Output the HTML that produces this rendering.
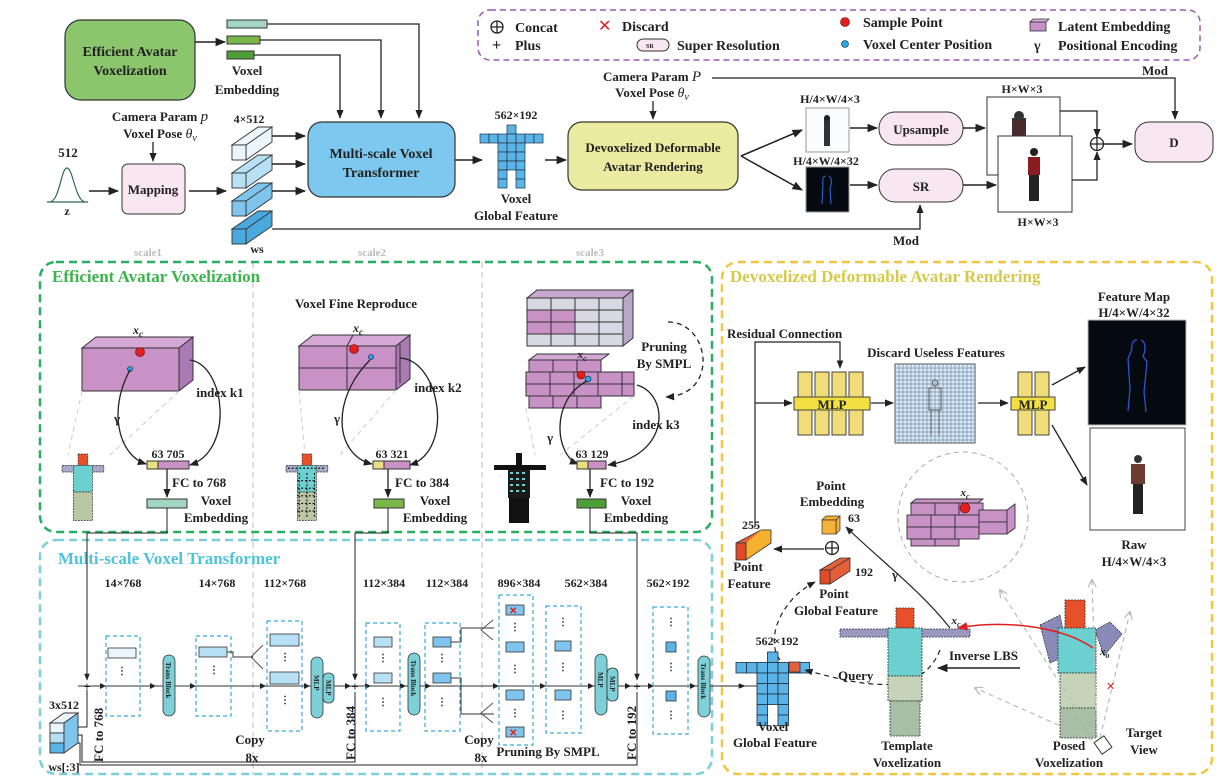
<!DOCTYPE html>
<html><head><meta charset="utf-8"><style>
html,body{margin:0;padding:0;background:#fff}
svg{display:block}
text{font-family:"Liberation Serif",serif;font-weight:bold;fill:#222}
</style></head><body>
<svg width="1232" height="778" viewBox="0 0 1232 778" xmlns="http://www.w3.org/2000/svg">
<defs>
<marker id="a" viewBox="0 0 10 10" refX="9" refY="5" markerWidth="7" markerHeight="7" orient="auto"><path d="M0,1 L10,5 L0,9 z" fill="#222"/></marker>
<marker id="ag" viewBox="0 0 10 10" refX="9" refY="5" markerWidth="7" markerHeight="7" orient="auto"><path d="M0,0 L10,5 L0,10" fill="none" stroke="#bbb" stroke-width="1.5"/></marker>
<marker id="ar" viewBox="0 0 10 10" refX="9" refY="5" markerWidth="7" markerHeight="7" orient="auto"><path d="M0,1 L10,5 L0,9 z" fill="#e02020"/></marker>
<g id="person">
 <rect x="17" y="0" width="10" height="12" fill="#e8502a" stroke="#333" stroke-dasharray="2,1" stroke-width="0.8"/>
 <rect x="0" y="12" width="44" height="7" fill="#a9a9c8" stroke="#333" stroke-dasharray="2,1" stroke-width="0.8"/>
 <rect x="12" y="12" width="20" height="28" fill="#6ccfd0" stroke="#333" stroke-dasharray="2,1" stroke-width="0.8"/>
 <rect x="12" y="40" width="20" height="30" fill="#b9c7a6" stroke="#333" stroke-dasharray="2,1" stroke-width="0.8"/>
</g>
<g id="vgf">
 <g fill="#5ab4e8" stroke="#234" stroke-width="0.8">
 <rect x="30" y="0" width="10" height="10"/>
 <rect x="0" y="10" width="10" height="10"/><rect x="10" y="10" width="10" height="10"/><rect x="20" y="10" width="10" height="10"/><rect x="30" y="10" width="10" height="10"/><rect x="40" y="10" width="10" height="10"/><rect x="50" y="10" width="10" height="10"/><rect x="60" y="10" width="10" height="10"/>
 <rect x="20" y="20" width="10" height="10"/><rect x="30" y="20" width="10" height="10"/><rect x="40" y="20" width="10" height="10"/>
 <rect x="20" y="30" width="10" height="10"/><rect x="30" y="30" width="10" height="10"/><rect x="40" y="30" width="10" height="10"/>
 <rect x="20" y="40" width="10" height="10"/><rect x="30" y="40" width="10" height="10"/><rect x="40" y="40" width="10" height="10"/>
 <rect x="20" y="50" width="10" height="10"/><rect x="40" y="50" width="10" height="10"/>
 <rect x="20" y="60" width="10" height="10"/><rect x="40" y="60" width="10" height="10"/>
 </g>
</g>
</defs>

<!-- Legend -->
<rect x="478" y="10" width="722" height="50" rx="12" fill="none" stroke="#9b59b6" stroke-width="1.5" stroke-dasharray="6,4"/>
<circle cx="497" cy="27" r="6" fill="none" stroke="#222" stroke-width="1.3"/><path d="M491,27h12M497,21v12" stroke="#222" stroke-width="1.3"/>
<text x="515" y="32" font-size="14">Concat</text>
<text x="492" y="50" font-size="16">+</text><text x="515" y="50" font-size="14">Plus</text>
<text x="598" y="31" font-size="16" style="fill:#e02020;font-weight:normal">✕</text><text x="622" y="31" font-size="14">Discard</text>
<rect x="637" y="39" width="32" height="12" rx="6" fill="#f8e6f0" stroke="#333"/><text x="646" y="48" font-size="6">SR</text>
<text x="677" y="50" font-size="14">Super Resolution</text>
<circle cx="845" cy="22" r="4.5" fill="#e02020" stroke="#600" stroke-width="0.6"/><text x="863" y="27" font-size="14">Sample Point</text>
<circle cx="845" cy="44" r="3.5" fill="#2aa6e0" stroke="#024" stroke-width="0.6"/><text x="863" y="49" font-size="14">Voxel Center Position</text>
<path d="M1030,22 h16 l3,-3 h-16 z" fill="#d8b0d8" stroke="#333" stroke-width="0.8"/><rect x="1030" y="22" width="16" height="9" fill="#c890c8" stroke="#333" stroke-width="0.8"/>
<text x="1058" y="31" font-size="14">Latent Embedding</text>
<text x="1034" y="50" font-size="14">γ</text><text x="1058" y="50" font-size="14">Positional Encoding</text>

<!-- Top pipeline -->
<rect x="65" y="20" width="130" height="80" rx="16" fill="#8bc56c" stroke="#333" stroke-width="1.2"/>
<text x="130" y="56" font-size="14" text-anchor="middle">Efficient Avatar</text>
<text x="130" y="75" font-size="14" text-anchor="middle">Voxelization</text>
<line x1="195" y1="42" x2="225" y2="42" stroke="#222" stroke-width="1.5" marker-end="url(#a)"/>
<rect x="227" y="20" width="40" height="8" fill="#a3d6c2" stroke="#333"/>
<rect x="227" y="36" width="33" height="8" fill="#7ab648" stroke="#333"/>
<rect x="227" y="51" width="27" height="8" fill="#4f9e3a" stroke="#333"/>
<text x="247" y="75" font-size="13" text-anchor="middle">Voxel</text>
<text x="247" y="94" font-size="13" text-anchor="middle">Embedding</text>
<path d="M267,24 H419 V118" fill="none" stroke="#222" stroke-width="1.3" marker-end="url(#a)"/>
<path d="M260,40 H381 V118" fill="none" stroke="#222" stroke-width="1.3" marker-end="url(#a)"/>
<path d="M254,55 H340 V118" fill="none" stroke="#222" stroke-width="1.3" marker-end="url(#a)"/>

<rect x="308" y="122" width="147" height="75" rx="14" fill="#7cc8ee" stroke="#333" stroke-width="1.2"/>
<text x="381" y="158" font-size="14" text-anchor="middle">Multi-scale Voxel</text>
<text x="381" y="177" font-size="14" text-anchor="middle">Transformer</text>

<text x="160" y="121" font-size="13" text-anchor="middle">Camera Param <tspan font-style="italic" font-weight="normal" font-size="15">p</tspan></text>
<text x="160" y="138" font-size="13" text-anchor="middle">Voxel Pose <tspan font-style="italic" font-weight="normal" font-size="14">θ</tspan><tspan font-style="italic" font-weight="normal" font-size="10" dy="3">v</tspan></text>
<line x1="153" y1="142" x2="153" y2="161" stroke="#222" stroke-width="1.3" marker-end="url(#a)"/>
<text x="68" y="157" font-size="13" text-anchor="middle">512</text>
<path d="M47,202 H88 M50,202 C60,200 61,168 67,168 C73,168 75,200 85,202" fill="none" stroke="#2e6b4a" stroke-width="1.2"/>
<text x="67" y="215" font-size="12" text-anchor="middle">z</text>
<line x1="89" y1="191" x2="118" y2="191" stroke="#222" stroke-width="1.5" marker-end="url(#a)"/>
<rect x="122" y="164" width="63" height="50" rx="6" fill="#f8e6f0" stroke="#333"/>
<text x="153" y="194" font-size="13" text-anchor="middle">Mapping</text>
<line x1="189" y1="191" x2="226" y2="191" stroke="#222" stroke-width="1.5" marker-end="url(#a)"/>
<text x="249" y="123" font-size="12" text-anchor="middle">4×512</text>
<g stroke="#333" stroke-width="0.9">
 <path d="M232,145 l26,-18 h14 l-26,18 z M258,127 h14 v15 l-26,18 v-15" fill="#eaf6fb"/><rect x="232" y="145" width="14" height="15" fill="#eaf6fb"/>
 <path d="M232,173 l26,-18 h14 l-26,18 z M258,155 h14 v15 l-26,18 v-15" fill="#b8e0f4"/><rect x="232" y="173" width="14" height="15" fill="#b8e0f4"/>
 <path d="M232,201 l26,-18 h14 l-26,18 z M258,183 h14 v15 l-26,18 v-15" fill="#7fc4ec"/><rect x="232" y="201" width="14" height="15" fill="#7fc4ec"/>
 <path d="M232,229 l26,-18 h14 l-26,18 z M258,211 h14 v15 l-26,18 v-15" fill="#4aa8dc"/><rect x="232" y="229" width="14" height="15" fill="#4aa8dc"/>
</g>
<text x="257" y="253" font-size="12" text-anchor="middle">ws</text>
<line x1="272" y1="136" x2="305" y2="136" stroke="#222" stroke-width="1.5" marker-end="url(#a)"/>
<line x1="272" y1="164" x2="305" y2="164" stroke="#222" stroke-width="1.5" marker-end="url(#a)"/>
<line x1="272" y1="191" x2="305" y2="191" stroke="#222" stroke-width="1.5" marker-end="url(#a)"/>
<path d="M272,229 H920 V205" fill="none" stroke="#222" stroke-width="1.3" marker-end="url(#a)"/>
<text x="906" y="245" font-size="13" text-anchor="middle">Mod</text>

<line x1="455" y1="160" x2="482" y2="160" stroke="#222" stroke-width="1.5" marker-end="url(#a)"/>
<text x="516" y="119" font-size="12" text-anchor="middle">562×192</text>
<use href="#vgf" transform="translate(480,125) scale(0.9)"/>
<text x="516" y="203" font-size="13" text-anchor="middle">Voxel</text>
<text x="516" y="220" font-size="13" text-anchor="middle">Global Feature</text>
<line x1="545" y1="160" x2="566" y2="160" stroke="#222" stroke-width="1.5" marker-end="url(#a)"/>
<rect x="568" y="122" width="170" height="68" rx="14" fill="#eaeba0" stroke="#333" stroke-width="1.2"/>
<text x="653" y="152" font-size="13" text-anchor="middle">Devoxelized Deformable</text>
<text x="653" y="171" font-size="13" text-anchor="middle">Avatar Rendering</text>
<text x="652" y="81" font-size="13" text-anchor="middle">Camera Param <tspan font-style="italic" font-weight="normal" font-size="15">P</tspan></text>
<text x="652" y="97" font-size="13" text-anchor="middle">Voxel Pose <tspan font-style="italic" font-weight="normal" font-size="14">θ</tspan><tspan font-style="italic" font-weight="normal" font-size="10" dy="3">v</tspan></text>
<line x1="653" y1="101" x2="653" y2="119" stroke="#222" stroke-width="1.3" marker-end="url(#a)"/>
<path d="M712,78 H1175 V119" fill="none" stroke="#222" stroke-width="1.3" marker-end="url(#a)"/>
<text x="1155" y="75" font-size="13" text-anchor="middle">Mod</text>
<line x1="741" y1="156" x2="802" y2="130" stroke="#222" stroke-width="1.5" marker-end="url(#a)"/>
<line x1="741" y1="156" x2="802" y2="190" stroke="#222" stroke-width="1.5" marker-end="url(#a)"/>
<text x="830" y="103" font-size="12" text-anchor="middle">H/4×W/4×3</text>
<rect x="806" y="108" width="43" height="44" fill="#fafcfd" stroke="#999"/>
<rect x="824" y="118" width="6" height="28" fill="#333"/><circle cx="827" cy="118" r="3" fill="#222"/>
<text x="826" y="165" font-size="12" text-anchor="middle">H/4×W/4×32</text>
<rect x="806" y="167" width="43" height="45" fill="#050a10" stroke="#999"/>
<path d="M826,176 c-3,0 -4,4 -3,8 l-1,20 M829,176 c3,2 3,8 1,12 l1,16" stroke="#2a6ce0" stroke-width="1" fill="none"/>
<line x1="850" y1="128" x2="877" y2="128" stroke="#222" stroke-width="1.5" marker-end="url(#a)"/>
<line x1="850" y1="185" x2="877" y2="185" stroke="#222" stroke-width="1.5" marker-end="url(#a)"/>
<rect x="879" y="112" width="84" height="33" rx="16" fill="#f8e6f0" stroke="#333"/>
<text x="921" y="134" font-size="13" text-anchor="middle">Upsample</text>
<rect x="879" y="169" width="84" height="33" rx="16" fill="#f8e6f0" stroke="#333"/>
<text x="921" y="191" font-size="13" text-anchor="middle">SR</text>
<line x1="963" y1="128" x2="985" y2="128" stroke="#222" stroke-width="1.5" marker-end="url(#a)"/>
<line x1="963" y1="185" x2="996" y2="185" stroke="#222" stroke-width="1.5" marker-end="url(#a)"/>
<text x="1022" y="93" font-size="12" text-anchor="middle">H×W×3</text>
<rect x="987" y="97" width="73" height="78" fill="#fff" stroke="#333"/>
<rect x="1012" y="118" width="14" height="18" fill="#4a2a2a"/><circle cx="1019" cy="116" r="5" fill="#333"/>
<rect x="998" y="136" width="74" height="76" fill="#fff" stroke="#333"/>
<circle cx="1034" cy="152" r="4" fill="#222"/><rect x="1028" y="157" width="12" height="18" fill="#8b1c22"/><rect x="1029" y="175" width="10" height="26" fill="#222"/>
<text x="1038" y="226" font-size="12" text-anchor="middle">H×W×3</text>
<path d="M1060,111 H1097 V137" fill="none" stroke="#222" stroke-width="1.3" marker-end="url(#a)"/>
<path d="M1072,180 H1097 V152" fill="none" stroke="#222" stroke-width="1.3" marker-end="url(#a)"/>
<circle cx="1097" cy="144" r="6.5" fill="#fff" stroke="#222" stroke-width="1.3"/><path d="M1090.5,144h13M1097,137.5v13" stroke="#222" stroke-width="1.3"/>
<line x1="1104" y1="144" x2="1132" y2="144" stroke="#222" stroke-width="1.5" marker-end="url(#a)"/>
<rect x="1135" y="122" width="78" height="40" rx="14" fill="#f8e6f0" stroke="#333"/>
<text x="1174" y="147" font-size="13" text-anchor="middle">D</text>

<!-- scale labels & separators -->
<text x="148" y="256" font-size="11" text-anchor="middle" style="fill:#bbb">scale1</text>
<text x="372" y="256" font-size="11" text-anchor="middle" style="fill:#bbb">scale2</text>
<text x="590" y="256" font-size="11" text-anchor="middle" style="fill:#bbb">scale3</text>
<line x1="253" y1="262" x2="253" y2="775" stroke="#bbb" stroke-dasharray="6,4"/>
<line x1="482" y1="262" x2="482" y2="775" stroke="#bbb" stroke-dasharray="6,4"/>

<!-- Section boxes -->
<rect x="40" y="262" width="672" height="270" rx="16" fill="none" stroke="#27ae60" stroke-width="2.5" stroke-dasharray="8,5"/>
<text x="52" y="282" font-size="17" style="fill:#3cb44b">Efficient Avatar Voxelization</text>
<rect x="40" y="540" width="672" height="234" rx="16" fill="none" stroke="#7ccfd8" stroke-width="2.5" stroke-dasharray="8,5"/>
<text x="58" y="564" font-size="17" style="fill:#4fc3d9">Multi-scale Voxel Transformer</text>
<rect x="722" y="262" width="490" height="512" rx="16" fill="none" stroke="#f2c640" stroke-width="2.5" stroke-dasharray="8,5"/>
<text x="730" y="282" font-size="17" style="fill:#d6c94a">Devoxelized Deformable Avatar Rendering</text>

<!-- EAV scale1 -->
<g stroke="#333" stroke-width="1">
<path d="M82,348 l14,-11 h97 l-14,11 z" fill="#d6a8d6"/>
<path d="M179,348 l14,-11 v43 l-14,11 z" fill="#a97ab3"/>
<rect x="82" y="348" width="97" height="43" fill="#c892c6"/>
</g>
<text x="138" y="334" font-size="12" font-style="italic" font-weight="normal" text-anchor="middle">x<tspan font-size="9" dy="3">c</tspan></text>
<circle cx="140" cy="352" r="4.5" fill="#e02020" stroke="#600" stroke-width="0.6"/>
<circle cx="130" cy="369" r="2.5" fill="#2aa6e0" stroke="#024" stroke-width="0.6"/>
<path d="M82,391 L68,455 M179,391 L110,455" stroke="#ccc" stroke-dasharray="5,4" fill="none"/>
<path d="M130,370 C108,410 118,455 146,464" fill="none" stroke="#222" stroke-width="1.3" marker-end="url(#a)"/>
<path d="M190,360 C225,365 235,450 190,465" fill="none" stroke="#222" stroke-width="1.3" marker-end="url(#a)"/>
<text x="220" y="397" font-size="13" text-anchor="middle">index k1</text>
<text x="117" y="423" font-size="13" text-anchor="middle">γ</text>
<text x="168" y="458" font-size="12" text-anchor="middle">63  705</text>
<rect x="147" y="461" width="11" height="8" fill="#e8e080" stroke="#333"/><rect x="158" y="461" width="31" height="8" fill="#c892c6" stroke="#333"/>
<line x1="167" y1="469" x2="167" y2="497" stroke="#222" stroke-width="1.3" marker-end="url(#a)"/>
<text x="172" y="487" font-size="13">FC to 768</text>
<rect x="147" y="499" width="40" height="9" fill="#a3d6c2" stroke="#333"/>
<text x="216" y="505" font-size="13" text-anchor="middle">Voxel</text>
<text x="216" y="522" font-size="13" text-anchor="middle">Embedding</text>
<use href="#person" transform="translate(62,454) scale(0.95)"/>

<!-- EAV scale2 -->
<text x="356" y="308" font-size="13" text-anchor="middle">Voxel Fine Reproduce</text>
<g stroke="#333" stroke-width="1">
<path d="M299,346 l14,-11 h97 l-14,11 z" fill="#d6a8d6"/>
<path d="M396,346 l14,-11 v44 l-14,11 z" fill="#a97ab3"/>
<rect x="299" y="346" width="97" height="44" fill="#c892c6"/>
<path d="M299,368 h97 M347,346 v44 M353,335 l-6,11 M400,344 v39"/>
</g>
<text x="358" y="332" font-size="12" font-style="italic" font-weight="normal" text-anchor="middle">x<tspan font-size="9" dy="3">c</tspan></text>
<circle cx="354" cy="349" r="4.5" fill="#e02020" stroke="#600" stroke-width="0.6"/>
<circle cx="371" cy="357" r="2.5" fill="#2aa6e0" stroke="#024" stroke-width="0.6"/>
<path d="M299,390 L305,455 M396,390 L340,455" stroke="#ccc" stroke-dasharray="5,4" fill="none"/>
<path d="M370,360 C330,400 335,455 372,464" fill="none" stroke="#222" stroke-width="1.3" marker-end="url(#a)"/>
<path d="M400,358 C440,360 455,450 410,465" fill="none" stroke="#222" stroke-width="1.3" marker-end="url(#a)"/>
<text x="438" y="392" font-size="13" text-anchor="middle">index k2</text>
<text x="337" y="423" font-size="13" text-anchor="middle">γ</text>
<text x="392" y="458" font-size="12" text-anchor="middle">63  321</text>
<rect x="373" y="461" width="11" height="8" fill="#e8e080" stroke="#333"/><rect x="384" y="461" width="26" height="8" fill="#c892c6" stroke="#333"/>
<line x1="388" y1="469" x2="388" y2="497" stroke="#222" stroke-width="1.3" marker-end="url(#a)"/>
<text x="395" y="487" font-size="13">FC to 384</text>
<rect x="374" y="499" width="30" height="9" fill="#7ab648" stroke="#333"/>
<text x="435" y="505" font-size="13" text-anchor="middle">Voxel</text>
<text x="435" y="522" font-size="13" text-anchor="middle">Embedding</text>
<g transform="translate(286,454) scale(0.95)">
 <use href="#person"/>
 <path d="M2,15 h40 M14,20 v48 M22,20 v48 M30,20 v48 M12,28 h20 M12,36 h20 M12,44 h20 M12,52 h20 M12,60 h20" stroke="#111" stroke-dasharray="2,2" stroke-width="1.2"/>
</g>

<!-- EAV scale3 -->
<g stroke="#333" stroke-width="1">
<path d="M527,298 l10,-8 h96 l-10,8 z" fill="#c8a8d0"/>
<rect x="527" y="298" width="96" height="48" fill="#d8d8e2"/>
<rect x="527" y="310" width="48" height="24" fill="#c892c6"/>
<path d="M527,310 h96 M527,322 h96 M527,334 h96 M551,298 v48 M575,298 v48 M599,298 v48"/>
<path d="M623,298 l10,-8 v48 l-10,8 z" fill="#b8a8c8"/>
</g>
<g stroke="#333" stroke-width="1" fill="#c892c6">
<rect x="529" y="360" width="24" height="12"/><rect x="553" y="360" width="24" height="12"/><rect x="577" y="360" width="24" height="12"/>
<rect x="526" y="372" width="24" height="12"/><rect x="550" y="372" width="24" height="12"/><rect x="574" y="372" width="24" height="12"/><rect x="598" y="372" width="24" height="12"/><rect x="622" y="372" width="12" height="12"/>
<rect x="526" y="384" width="24" height="12"/><rect x="550" y="384" width="24" height="12"/><rect x="574" y="384" width="24" height="12"/><rect x="598" y="384" width="24" height="12"/><rect x="622" y="384" width="12" height="12"/>
<rect x="529" y="396" width="24" height="12"/><rect x="553" y="396" width="24" height="12"/><rect x="577" y="396" width="24" height="12"/>
<path d="M529,360 l8,-6 h72 l-8,6 z" fill="#d6a8d6"/>
</g>
<text x="582" y="358" font-size="11" font-style="italic" font-weight="normal" text-anchor="middle">x<tspan font-size="8" dy="3">c</tspan></text>
<circle cx="581" cy="375" r="4" fill="#e02020" stroke="#600" stroke-width="0.6"/>
<circle cx="588" cy="379" r="3" fill="#2aa6e0" stroke="#024" stroke-width="0.6"/>
<path d="M526,408 L535,455 M634,396 L560,455" stroke="#ccc" stroke-dasharray="5,4" fill="none"/>
<path d="M587,381 C550,400 555,455 578,464" fill="none" stroke="#222" stroke-width="1.3" marker-end="url(#a)"/>
<path d="M637,385 C670,395 670,455 608,465" fill="none" stroke="#222" stroke-width="1.3" marker-end="url(#a)"/>
<text x="656" y="429" font-size="13" text-anchor="middle">index k3</text>
<text x="550" y="442" font-size="13" text-anchor="middle">γ</text>
<path d="M668,322 C710,322 720,395 666,397" fill="none" stroke="#222" stroke-width="1.3" stroke-dasharray="5,4" marker-end="url(#a)"/>
<text x="664" y="351" font-size="13" text-anchor="middle">Pruning</text>
<text x="664" y="368" font-size="13" text-anchor="middle">By SMPL</text>
<text x="592" y="458" font-size="12" text-anchor="middle">63   129</text>
<rect x="577" y="461" width="11" height="8" fill="#e8e080" stroke="#333"/><rect x="588" y="461" width="18" height="8" fill="#c892c6" stroke="#333"/>
<line x1="590" y1="469" x2="590" y2="497" stroke="#222" stroke-width="1.3" marker-end="url(#a)"/>
<text x="600" y="487" font-size="13">FC to 192</text>
<rect x="577" y="499" width="29" height="9" fill="#4f9e3a" stroke="#333"/>
<text x="636" y="505" font-size="13" text-anchor="middle">Voxel</text>
<text x="636" y="522" font-size="13" text-anchor="middle">Embedding</text>
<g transform="translate(494,453)">
 <rect x="22" y="0" width="6" height="12" fill="#111"/>
 <rect x="0" y="12" width="52" height="5" fill="#111"/>
 <rect x="14" y="17" width="22" height="28" fill="#1a1a1a"/>
 <rect x="15" y="45" width="20" height="25" fill="#111"/>
 <path d="M16,20 h18 M16,26 h18 M16,32 h18 M16,38 h18" stroke="#6ccfd0" stroke-dasharray="3,3" stroke-width="2"/>
</g>

<!-- MSVT -->
<g font-size="12">
<text x="123" y="587" text-anchor="middle">14×768</text>
<text x="217" y="587" text-anchor="middle">14×768</text>
<text x="285" y="587" text-anchor="middle">112×768</text>
<text x="384" y="587" text-anchor="middle">112×384</text>
<text x="447" y="587" text-anchor="middle">112×384</text>
<text x="519" y="587" text-anchor="middle">896×384</text>
<text x="586" y="587" text-anchor="middle">562×384</text>
<text x="668" y="587" text-anchor="middle">562×192</text>
</g>
<path d="M167,508 V533 H87 V680" fill="none" stroke="#222" stroke-width="1" marker-end="url(#a)"/>
<path d="M388,508 V533 H355 V680" fill="none" stroke="#222" stroke-width="1" marker-end="url(#a)"/>
<path d="M590,508 V533 H637 V680" fill="none" stroke="#222" stroke-width="1" marker-end="url(#a)"/>
<line x1="78" y1="686" x2="763" y2="686" stroke="#333" stroke-width="1"/>
<g fill="#222">
<path d="M100,683 l6,3 l-6,3z M150,683 l6,3 l-6,3z M190,683 l6,3 l-6,3z M260,683 l6,3 l-6,3z M304,683 l6,3 l-6,3z M345,683 l6,3 l-6,3z M365,683 l6,3 l-6,3z M400,683 l6,3 l-6,3z M425,683 l6,3 l-6,3z M493,683 l6,3 l-6,3z M540,683 l6,3 l-6,3z M588,683 l6,3 l-6,3z M625,683 l6,3 l-6,3z M648,683 l6,3 l-6,3z M690,683 l6,3 l-6,3z"/>
</g>
<text x="87" y="691" font-size="13" text-anchor="middle">+</text>
<text x="355" y="691" font-size="13" text-anchor="middle">+</text>
<text x="637" y="691" font-size="13" text-anchor="middle">+</text>
<text x="64" y="709" font-size="12" text-anchor="middle">3x512</text>
<g stroke="#333" stroke-width="0.9">
<path d="M50,723 l14,-10 h14 l-14,10 z" fill="#eaf6fb"/>
<rect x="50" y="723" width="14" height="10" fill="#eaf6fb"/><rect x="50" y="733" width="14" height="10" fill="#b8e0f4"/><rect x="50" y="743" width="14" height="10" fill="#5ab4e8"/>
<path d="M64,723 l14,-10 v30 l-14,10 z" fill="#7fc4ec"/>
</g>
<text x="64" y="771" font-size="12" text-anchor="middle">ws[:3]</text>
<path d="M78,727 H87 V690" fill="none" stroke="#222" stroke-width="1"/>
<path d="M78,735 H82 V762 H355 V692" fill="none" stroke="#222" stroke-width="1"/>
<path d="M78,743 H80 V765 H637 V692" fill="none" stroke="#222" stroke-width="1"/>
<text transform="translate(103,762) rotate(-90)" font-size="13">FC to 768</text>
<text transform="translate(355,760) rotate(-90)" font-size="13">FC to 384</text>
<text transform="translate(636,760) rotate(-90)" font-size="13">FC to 192</text>
<g fill="none" stroke="#3aa8e0" stroke-width="1.2" stroke-dasharray="4,3">
<rect x="106" y="636" width="34" height="80"/><rect x="196" y="636" width="35" height="80"/>
<rect x="267" y="621" width="35" height="110"/><rect x="366" y="623" width="34" height="108"/>
<rect x="425" y="623" width="35" height="108"/><rect x="499" y="595" width="34" height="150"/>
<rect x="546" y="606" width="35" height="127"/><rect x="653" y="607" width="35" height="127"/>
</g>
<g stroke="#333" stroke-width="0.8">
<rect x="108" y="648" width="28" height="10" fill="#eaf6fb"/>
<rect x="199" y="647" width="28" height="10" fill="#b8e0f4"/>
<rect x="270" y="634" width="29" height="12" fill="#b8e0f4"/><rect x="270" y="672" width="29" height="12" fill="#b8e0f4"/>
<rect x="374" y="637" width="18" height="10" fill="#b8e0f4"/><rect x="374" y="673" width="18" height="10" fill="#b8e0f4"/>
<rect x="433" y="637" width="18" height="10" fill="#7fc4ec"/><rect x="433" y="673" width="18" height="10" fill="#7fc4ec"/>
<rect x="506" y="605" width="18" height="10" fill="#7fc4ec"/><rect x="506" y="642" width="18" height="10" fill="#7fc4ec"/><rect x="506" y="690" width="18" height="10" fill="#7fc4ec"/><rect x="506" y="727" width="18" height="10" fill="#7fc4ec"/>
<rect x="555" y="641" width="16" height="10" fill="#7fc4ec"/><rect x="555" y="690" width="16" height="10" fill="#7fc4ec"/>
<rect x="666" y="642" width="10" height="10" fill="#5ab4e8"/><rect x="666" y="691" width="10" height="10" fill="#5ab4e8"/>
</g>
<text x="509" y="614" font-size="10" style="fill:#e02020">✕</text><text x="509" y="736" font-size="10" style="fill:#e02020">✕</text>
<g stroke="#333" stroke-width="0.8" fill="#7ed0d8">
<rect x="163" y="655" width="12" height="61" rx="6"/><rect x="408" y="653" width="12" height="62" rx="6"/><rect x="698" y="656" width="12" height="61" rx="6"/>
<rect x="311" y="657" width="12" height="61" rx="6"/><rect x="323" y="673" width="11" height="30" rx="5"/>
<rect x="595" y="654" width="12" height="61" rx="6"/><rect x="607" y="668" width="11" height="33" rx="5"/>
</g>
<g font-size="7" font-weight="normal">
<text transform="translate(166,662) rotate(90)">Trans Block</text>
<text transform="translate(411,660) rotate(90)">Trans Block</text>
<text transform="translate(701,663) rotate(90)">Trans Block</text>
<text transform="translate(314,675) rotate(90)">MLP</text><text transform="translate(326,680) rotate(90)">MLP</text>
<text transform="translate(598,672) rotate(90)">MLP</text><text transform="translate(610,676) rotate(90)">MLP</text>
</g>
<path d="M227,652 h6 v5 h20 M451,642 h10 v-14 h33 M451,678 h10 v36 h33" fill="none" stroke="#333"/>
<path d="M263,645 l-12,12 l12,12 M493,620 l-12,10 l12,10 M493,703 l-12,10 l12,10" fill="none" stroke="#555"/>
<text x="250" y="744" font-size="13" text-anchor="middle">Copy</text><text x="252" y="762" font-size="13" text-anchor="middle">8x</text>
<text x="479" y="744" font-size="13" text-anchor="middle">Copy</text><text x="481" y="762" font-size="13" text-anchor="middle">8x</text>
<text x="548" y="756" font-size="13" text-anchor="middle">Pruning By SMPL</text>
<g fill="#555" font-size="10" font-weight="normal">
<text x="122" y="674" text-anchor="middle">⋮</text><text x="214" y="673" text-anchor="middle">⋮</text><text x="285" y="660" text-anchor="middle">⋮</text><text x="285" y="703" text-anchor="middle">⋮</text>
<text x="383" y="661" text-anchor="middle">⋮</text><text x="383" y="705" text-anchor="middle">⋮</text><text x="442" y="661" text-anchor="middle">⋮</text><text x="442" y="705" text-anchor="middle">⋮</text>
<text x="515" y="630" text-anchor="middle">⋮</text><text x="515" y="672" text-anchor="middle">⋮</text><text x="515" y="716" text-anchor="middle">⋮</text>
<text x="563" y="625" text-anchor="middle">⋮</text><text x="563" y="670" text-anchor="middle">⋮</text><text x="563" y="718" text-anchor="middle">⋮</text>
<text x="671" y="625" text-anchor="middle">⋮</text><text x="671" y="670" text-anchor="middle">⋮</text><text x="671" y="718" text-anchor="middle">⋮</text>
</g>

<!-- DDAR -->
<text x="727" y="338" font-size="13">Residual Connection</text>
<path d="M755,527 V342 H840 V368" fill="none" stroke="#222" stroke-width="1.2" marker-end="url(#a)"/>
<line x1="755" y1="403" x2="792" y2="403" stroke="#222" stroke-width="1.3" marker-end="url(#a)"/>
<g stroke="#444" fill="#f0dc78">
<rect x="798" y="372" width="14" height="63"/><rect x="815" y="372" width="14" height="63"/><rect x="832" y="372" width="14" height="63"/><rect x="849" y="372" width="14" height="63"/>
<rect x="794" y="397" width="76" height="13" fill="#f2e040"/>
<rect x="1018" y="372" width="14" height="63"/><rect x="1035" y="372" width="14" height="63"/>
<rect x="1011" y="397" width="44" height="13" fill="#f2e040"/>
</g>
<text x="832" y="409" font-size="13" text-anchor="middle">MLP</text>
<text x="1033" y="409" font-size="13" text-anchor="middle">MLP</text>
<text x="936" y="357" font-size="13" text-anchor="middle">Discard Useless Features</text>
<line x1="871" y1="403" x2="893" y2="403" stroke="#222" stroke-width="1.3" marker-end="url(#a)"/>
<rect x="895" y="364" width="80" height="79" fill="#dfe9f3" stroke="#555"/>
<path d="M895,368h80M895,372h80M895,376h80M895,380h80M895,384h80M895,388h80M895,392h80M895,396h80M895,400h80M895,404h80M895,408h80M895,412h80M895,416h80M895,420h80M895,424h80M895,428h80M895,432h80M895,436h80M895,440h80M899,364v79M903,364v79M907,364v79M911,364v79M915,364v79M919,364v79M923,364v79M927,364v79M931,364v79M935,364v79M939,364v79M943,364v79M947,364v79M951,364v79M955,364v79M959,364v79M963,364v79M967,364v79M971,364v79" stroke="#6b8fb0" stroke-width="0.7"/>
<path d="M935,380 c-3,0 -4,6 0,6 c4,0 3,-6 0,-6 M929,388 h12 v22 h-12 z M931,410 v25 M939,410 v25" fill="none" stroke="#555"/>
<line x1="978" y1="403" x2="1008" y2="403" stroke="#222" stroke-width="1.3" marker-end="url(#a)"/>
<line x1="1052" y1="385" x2="1085" y2="367" stroke="#222" stroke-width="1.3" marker-end="url(#a)"/>
<line x1="1052" y1="425" x2="1087" y2="485" stroke="#222" stroke-width="1.3" marker-end="url(#a)"/>
<text x="1134" y="301" font-size="13" text-anchor="middle">Feature Map</text>
<text x="1134" y="317" font-size="13" text-anchor="middle">H/4×W/4×32</text>
<rect x="1088" y="320" width="98" height="105" fill="#050a10" stroke="#bbb"/>
<path d="M1137,340 c-4,0 -6,4 -5,9 l-4,10 l2,30 l-2,22 M1141,340 c5,2 5,10 2,16 l4,6 l-3,30 l2,20" stroke="#2a5ce0" stroke-width="1.2" fill="none"/>
<rect x="1090" y="428" width="95" height="102" fill="#fff" stroke="#444"/>
<circle cx="1138" cy="459" r="4" fill="#333"/><rect x="1131" y="464" width="14" height="20" fill="#6b3a30"/><rect x="1133" y="484" width="10" height="30" fill="#222"/>
<text x="1134" y="549" font-size="13" text-anchor="middle">Raw</text>
<text x="1134" y="566" font-size="13" text-anchor="middle">H/4×W/4×3</text>

<text x="831" y="490" font-size="13" text-anchor="middle">Point</text>
<text x="832" y="506" font-size="13" text-anchor="middle">Embedding</text>
<path d="M822,520 l4,-4 h14 l-4,4 z M836,520 l4,-4 v14 l-4,4 z" fill="#f5b030" stroke="#333" stroke-width="0.7"/><rect x="822" y="520" width="14" height="14" fill="#f7b038" stroke="#333" stroke-width="0.7"/>
<text x="848" y="522" font-size="12">63</text>
<text x="742" y="529" font-size="12">255</text>
<path d="M736,543 l25,-13 h10 l-25,13 z" fill="#e5603a" stroke="#333" stroke-width="0.8"/>
<path d="M761,530 h10 v13 l-25,17 v-17" fill="#f5b030" stroke="#333" stroke-width="0.8"/>
<rect x="736" y="543" width="10" height="17" fill="#e04a28" stroke="#333" stroke-width="0.8"/>
<text x="748" y="571" font-size="13" text-anchor="middle">Point</text>
<text x="749" y="588" font-size="13" text-anchor="middle">Feature</text>
<circle cx="832" cy="548" r="6.5" fill="#fff" stroke="#222" stroke-width="1.3"/><path d="M825.5,548h13M832,541.5v13" stroke="#222" stroke-width="1.3"/>
<line x1="824" y1="549" x2="774" y2="549" stroke="#222" stroke-width="1.3" marker-end="url(#a)"/>
<path d="M820,570 l20,-12 h10 l-20,12 z M840,558 h10 v13 l-20,13 v-14" fill="#e5603a" stroke="#333" stroke-width="0.8"/><rect x="820" y="570" width="10" height="14" fill="#e04a28" stroke="#333" stroke-width="0.8"/>
<text x="855" y="576" font-size="12">192</text>
<text x="834" y="598" font-size="13" text-anchor="middle">Point</text>
<text x="836" y="615" font-size="13" text-anchor="middle">Global Feature</text>
<text x="892" y="579" font-size="13">γ</text>
<path d="M950,628 C920,590 880,560 846,527" fill="none" stroke="#222" stroke-width="1.2" marker-end="url(#a)"/>
<circle cx="963" cy="517" r="65" fill="none" stroke="#aaa" stroke-dasharray="5,4"/>
<g stroke="#333" stroke-width="0.9" fill="#c892c6">
<rect x="911" y="503" width="24" height="12"/><rect x="935" y="503" width="24" height="12"/><rect x="959" y="503" width="24" height="12"/>
<rect x="907" y="515" width="24" height="12"/><rect x="931" y="515" width="24" height="12"/><rect x="955" y="515" width="24" height="12"/><rect x="979" y="510" width="28" height="12"/>
<rect x="907" y="527" width="24" height="12"/><rect x="931" y="527" width="24" height="12"/><rect x="955" y="527" width="24" height="12"/><rect x="979" y="522" width="28" height="12"/>
<rect x="911" y="539" width="24" height="7"/><rect x="935" y="539" width="24" height="7"/>
<path d="M911,503 l5,-4 h67 l-5,4 z M1007,510 l8,-6 v24 l-8,6 z"/>
</g>
<circle cx="965" cy="508" r="5" fill="#e02020" stroke="#600" stroke-width="0.6"/>
<text x="965" y="496" font-size="11" font-style="italic" font-weight="normal" text-anchor="middle">x<tspan font-size="8" dy="3">c</tspan></text>

<path d="M780,660 C765,640 780,600 815,582" fill="none" stroke="#222" stroke-width="1.2" stroke-dasharray="5,4" marker-end="url(#a)"/>
<text x="777" y="645" font-size="12" text-anchor="middle">562×192</text>
<use href="#vgf" transform="translate(736,652) scale(1.05)"/>
<rect x="789" y="662" width="11" height="10" fill="#e5603a" stroke="#234" stroke-width="0.8"/>
<line x1="720" y1="686" x2="745" y2="686" stroke="#222" stroke-width="1" marker-end="url(#a)"/>
<text x="773" y="731" font-size="13" text-anchor="middle">Voxel</text>
<text x="775" y="747" font-size="13" text-anchor="middle">Global Feature</text>
<path d="M940,650 C920,700 860,685 805,670" fill="none" stroke="#222" stroke-width="1.2" stroke-dasharray="5,4" marker-end="url(#a)"/>
<text x="838" y="680" font-size="13">Query</text>
<g transform="translate(840,608)">
 <rect x="56" y="0" width="18" height="20" fill="#e8502a" stroke="#333" stroke-dasharray="2,1" stroke-width="0.8"/>
 <rect x="0" y="21" width="130" height="8" fill="#9a9ac0" stroke="#333" stroke-dasharray="2,1" stroke-width="0.8"/>
 <rect x="48" y="20" width="34" height="48" fill="#6ccfd0" stroke="#333" stroke-dasharray="2,1" stroke-width="0.8"/>
 <rect x="48" y="68" width="34" height="25" fill="#c5d3b8" stroke="#333" stroke-dasharray="2,1" stroke-width="0.8"/>
 <rect x="50" y="93" width="30" height="35" fill="#a7bfa6" stroke="#333" stroke-dasharray="2,1" stroke-width="0.8"/>
</g>
<text x="956" y="624" font-size="11" font-style="italic" font-weight="normal" text-anchor="middle">x<tspan font-size="8" dy="3">c</tspan></text>
<text x="907" y="750" font-size="13" text-anchor="middle">Template</text>
<text x="907" y="767" font-size="13" text-anchor="middle">Voxelization</text>
<text x="949" y="660" font-size="13">Inverse LBS</text>
<line x1="1020" y1="668" x2="938" y2="668" stroke="#222" stroke-width="1.5" marker-end="url(#a)"/>
<g transform="translate(1040,600)">
 <rect x="25" y="0" width="20" height="30" fill="#e8502a" stroke="#333" stroke-dasharray="2,1" stroke-width="0.8"/>
 <path d="M0,25 l20,-10 l8,40 l-18,8 z" fill="#8a8ab8" stroke="#333" stroke-dasharray="2,1" stroke-width="0.8"/>
 <path d="M55,30 l15,-8 l12,12 l-18,22 z" fill="#8a8ab8" stroke="#333" stroke-dasharray="2,1" stroke-width="0.8"/>
 <rect x="18" y="28" width="38" height="45" fill="#6ccfd0" stroke="#333" stroke-dasharray="2,1" stroke-width="0.8"/>
 <rect x="20" y="73" width="36" height="35" fill="#c5d3b8" stroke="#333" stroke-dasharray="2,1" stroke-width="0.8"/>
 <rect x="20" y="108" width="36" height="30" fill="#a7bfa6" stroke="#333" stroke-dasharray="2,1" stroke-width="0.8"/>
</g>
<path d="M1093,648 C1060,625 1000,620 958,628" fill="none" stroke="#e02020" stroke-width="1.5" marker-end="url(#ar)"/>
<text x="1100" y="655" font-size="11" font-style="italic" font-weight="normal">x<tspan font-size="8" dy="3">o</tspan></text>
<g stroke="#bbb" stroke-dasharray="5,4" fill="none" stroke-width="1.2">
<line x1="1097" y1="738" x2="1092" y2="580" marker-end="url(#ag)"/>
<line x1="1100" y1="738" x2="1130" y2="612" marker-end="url(#ag)"/>
<line x1="1095" y1="738" x2="1000" y2="590" marker-end="url(#ag)"/>
<line x1="1092" y1="740" x2="975" y2="688" marker-end="url(#ag)"/>
</g>
<text x="1106" y="690" font-size="11" style="fill:#e02020;font-weight:normal">✕</text>
<rect x="1097" y="738" width="12" height="14" fill="#fff" stroke="#333" transform="rotate(-35 1103 745)"/>
<text x="1144" y="737" font-size="13" text-anchor="middle">Target</text>
<text x="1144" y="754" font-size="13" text-anchor="middle">View</text>
<text x="1069" y="750" font-size="13" text-anchor="middle">Posed</text>
<text x="1069" y="767" font-size="13" text-anchor="middle">Voxelization</text>
</svg>
</body></html>
